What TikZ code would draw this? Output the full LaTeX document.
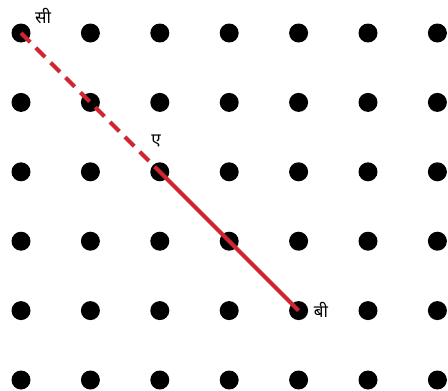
\documentclass[tikz,border=0pt]{standalone}
\usepackage{fontspec}
\newfontfamily\devfont[Script=Devanagari]{Noto Sans}
\definecolor{lred}{HTML}{D0262F}
\begin{document}
\begin{tikzpicture}[x=1pt,y=-1pt,
  dot/.style={circle,fill=black,inner sep=0pt,minimum size=19pt},
  lbl/.style={font=\devfont\fontsize{17}{20}\selectfont,inner sep=0pt},
  seg/.style={draw=lred,line width=4.2pt}]
\useasboundingbox (0,0) rectangle (448,391);
\foreach \i in {0,...,6}{
  \foreach \j in {0,...,5}{
    \node[dot] (d\i\j) at (21+69.4*\i,33+69.4*\j) {};
  }
}
\draw[seg,dash pattern=on 13pt off 8pt] (d00.center) -- (d22.center);
\draw[seg] (d22.center) -- (d44.center);
\node[lbl] (c) at (43,16) {सी};
\node[lbl] (a) at (156,141) {ए};
\node[lbl] (b) at (321,310) {बी};
\end{tikzpicture}
\end{document}
